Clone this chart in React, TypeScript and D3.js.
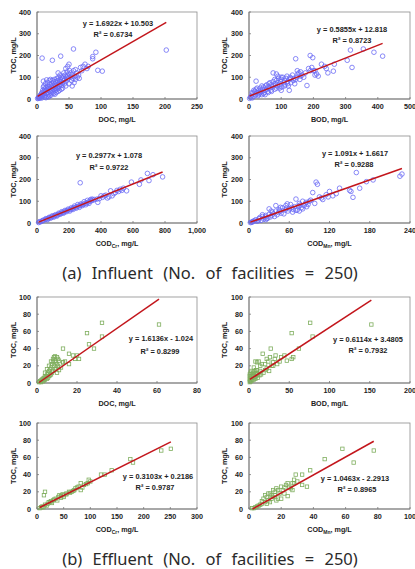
import React from "react";
import * as d3 from "d3";

type P = [number, number];

// ---------- Influent data ----------
const infDOC: P[] = [
  [1,2],[2,5],[3,8],[3,3],[4,12],[5,6],[5,15],[6,20],[6,10],[7,25],[7,4],[8,18],[8,30],[9,12],[9,40],
  [10,22],[10,55],[10,82],[11,35],[11,60],[12,28],[12,45],[13,15],[13,70],[14,38],[14,52],[15,25],[15,88],
  [16,42],[16,60],[17,30],[17,75],[18,48],[18,20],[19,55],[19,85],[20,35],[20,65],[21,45],[21,90],[22,28],
  [22,58],[23,70],[23,40],[24,50],[24,85],[25,32],[25,62],[26,45],[26,78],[27,55],[27,90],[28,38],[28,68],
  [29,50],[29,80],[30,60],[30,42],[31,72],[31,95],[32,55],[32,85],[33,48],[33,120],[34,65],[34,100],[35,75],
  [35,58],[36,90],[36,110],[37,68],[37,197],[38,80],[38,100],[39,62],[40,95],[40,75],[41,105],[42,85],
  [42,120],[43,70],[43,92],[44,110],[45,140],[45,80],[46,100],[47,125],[47,88],[48,150],[48,105],[49,95],
  [50,160],[50,115],[51,130],[52,100],[53,120],[54,85],[55,110],[55,60],[56,95],[57,230],[57,130],[58,75],
  [59,105],[60,135],[60,90],[62,120],[63,100],[65,110],[66,95],[68,145],[70,130],[72,150],[75,160],[78,140],
  [80,150],[87,185],[87,195],[92,215],[95,132],[102,128],[202,225],[8,188],[24,178],[12,8],[18,10],[22,18],
  [26,25],[30,30],[35,40],[40,50],[45,60],[50,70],[28,22],[16,12],[20,15],[14,6],[33,35],[38,45]
];
const infBOD: P[] = [
  [2,3],[5,8],[8,15],[10,5],[12,25],[15,12],[18,35],[20,20],[22,45],[25,30],[28,15],[30,40],[32,25],
  [35,50],[38,35],[40,20],[42,45],[45,55],[48,30],[50,40],[52,60],[55,45],[58,35],[60,55],[62,70],[65,50],
  [68,40],[70,65],[72,55],[75,80],[78,60],[80,45],[82,70],[85,85],[88,60],[90,75],[92,95],[95,65],[98,80],
  [100,90],[102,55],[105,100],[108,75],[110,85],[112,65],[115,95],[118,105],[120,80],[122,60],[125,90],
  [128,100],[130,75],[135,110],[138,85],[140,95],[142,70],[148,100],[152,115],[158,90],[165,110],[175,120],
  [190,130],[195,145],[205,110],[235,150],[240,140],[145,185],[190,200],[198,190],[180,62],[225,160],
  [245,120],[262,128],[265,160],[305,178],[315,225],[320,145],[355,230],[388,215],[415,197],[185,140],
  [200,130],[210,115],[215,105],[150,130],[155,120],[160,105],[170,100],[22,82],[75,120],[85,115],[100,40],
  [125,40],[100,100],[15,40],[30,20],[45,25],[60,30],[70,35],[85,50],[95,50],[110,60],[120,70],[40,60],
  [55,65],[65,75],[80,90],[90,105],[10,30],[25,50],[35,30],[50,20],[130,95],[145,90],[160,125],[205,130]
];
const infCODcr: P[] = [
  [10,2],[20,5],[30,8],[40,12],[50,15],[60,18],[70,20],[80,25],[90,27],[100,30],[110,33],[120,35],
  [130,38],[140,42],[150,45],[160,48],[170,50],[180,55],[190,58],[200,60],[210,62],[220,66],[230,70],
  [240,72],[250,75],[260,78],[270,80],[280,84],[290,86],[300,90],[310,92],[320,96],[330,100],[340,102],
  [350,105],[360,108],[15,6],[35,12],[55,20],[75,26],[95,33],[115,38],[135,45],[155,52],[175,58],[195,64],
  [215,70],[235,78],[255,85],[275,88],[295,98],[315,104],[335,108],[345,110],[65,15],[85,22],[105,27],
  [125,32],[145,40],[165,45],[185,52],[205,55],[225,62],[245,68],[265,72],[285,80],[305,84],[325,90],
  [270,185],[690,228],[700,195],[725,222],[785,212],[640,178],[650,198],[590,188],[560,148],[540,160],
  [510,145],[520,155],[460,148],[450,120],[470,125],[480,135],[420,125],[400,125],[380,95],[440,115],
  [490,140],[530,150],[410,118],[430,128],[500,150],[375,110],[390,112]
];
const infCODmn: P[] = [
  [2,2],[5,5],[8,10],[10,15],[12,8],[15,20],[18,12],[20,30],[22,18],[25,35],[28,22],[30,40],[32,28],
  [35,50],[38,30],[40,55],[42,38],[45,62],[48,45],[50,70],[52,42],[55,80],[58,55],[60,65],[62,85],[65,50],
  [68,75],[70,110],[72,60],[75,90],[78,70],[80,100],[82,80],[85,95],[88,85],[90,100],[30,65],[40,80],
  [20,38],[25,15],[70,58],[75,55],[80,65],[4,3],[6,8],[14,12],[16,25],[24,28],[26,20],[34,35],[36,42],
  [44,48],[46,55],[54,60],[56,68],[64,72],[66,62],[74,78],[76,82],[84,88],[86,75],[33,55],[47,72],[57,88],
  [100,188],[102,178],[95,140],[98,90],[105,120],[110,108],[115,130],[120,145],[125,125],[130,135],
  [135,160],[150,150],[152,145],[155,118],[160,232],[165,160],[175,190],[185,198],[225,215],[228,225],
  [118,120],[92,105],[108,115]
];

// ---------- Effluent data ----------
const effDOC: P[] = [
  [61,68],[32.5,70],[32.5,54],[25,58],[26,45],[28.5,40],[13,40],[16,34],[16,22],[18,32],[19,28],[21,28],
  [20,32],[14,25],[13,24],[1,1],[1.5,2],[2,3],[2,1],[2.5,4],[3,2],[3,5],[3.5,6],[3.5,3],[4,8],[4,4],
  [4.5,7],[5,10],[5,5],[5.5,12],[5.5,6],[6,14],[6,8],[6.5,16],[6.5,9],[7,18],[7,10],[7.5,22],[7.5,12],
  [8,25],[8,28],[8,14],[8.5,20],[8.5,30],[9,26],[9,16],[9,31],[9.5,24],[9.5,18],[10,30],[10,22],[10,12],
  [10.5,28],[10.5,20],[11,26],[11,15],[12,18],[13,24],[7,25],[6,20],[5,16],[4,12]
];
const effBOD: P[] = [
  [152,68],[76,70],[79,54],[53,58],[53,28],[55,30],[47,26],[44,32],[38,25],[33,32],[32,28],[30,20],
  [27,40],[26,30],[24,25],[22,28],[20,22],[17,34],[16,22],[14,20],[12,25],[10,24],[8,25],[9,15],[6,18],
  [62,40],[1,1],[1,3],[1,5],[1,8],[1,10],[2,2],[2,6],[2,12],[3,4],[3,8],[3,14],[4,3],[4,10],[5,6],[5,12],
  [6,4],[6,9],[7,7],[7,14],[8,5],[8,11],[9,8],[10,10],[10,15],[11,6],[12,12],[13,9],[14,14],[15,10],
  [18,12],[20,15],[22,17],[25,14],[28,20],[30,24],[35,22],[40,30]
];
const effCODcr: P[] = [
  [251,70],[233,68],[175,58],[180,54],[140,45],[120,40],[127,40],[97,34],[100,32],[95,30],[82,30],[82,22],
  [85,25],[75,25],[70,22],[65,20],[60,20],[55,18],[50,16],[45,15],[40,14],[35,12],[30,10],[25,8],[20,6],
  [15,5],[10,3],[5,1],[13,16],[15,20],[45,13],[50,14],[38,10],[28,7],[22,8],[18,4],[8,2],[12,2],[55,17],
  [62,19],[68,21],[72,24],[78,26],[88,28],[92,29],[42,16],[48,17],[32,11],[26,9]
];
const effCODmn: P[] = [
  [77.5,68],[58,70],[65,54],[47,58],[38,45],[36,26],[33,40],[33,28],[29,40],[28,34],[27,30],[27,22],
  [24,30],[23,28],[22,25],[20,12],[18,22],[17,24],[16,20],[15,14],[14,16],[13,18],[12,10],[11,14],[10,8],
  [9,12],[8,6],[7,5],[6,4],[5,3],[4,2],[3,1],[2,1],[10,16],[12,18],[15,22],[18,12],[20,26],[22,18],
  [25,25],[28,30],[30,32],[17,10],[13,8],[8,9],[11,6],[19,18],[21,22],[24,15],[26,24],[14,12],[16,16]
];

// ---------- Axis ticks ----------
const ticksInfY = [0, 100, 200, 300, 400];
const ticksInfDOC = [0, 50, 100, 150, 200, 250];
const ticksInfBOD = [0, 100, 200, 300, 400, 500];
const ticksInfCODcr = [0, 200, 400, 600, 800, 1000];
const ticksInfCODmn = [0, 60, 120, 180, 240];
const ticksEffY = [0, 20, 40, 60, 80, 100];
const ticksEffDOC = [0, 20, 40, 60, 80];
const ticksEffBOD = [0, 50, 100, 150, 200];
const ticksEffCODcr = [0, 50, 100, 150, 200, 250, 300];
const ticksEffCODmn = [0, 20, 40, 60, 80, 100];

// ---------- Regressions ----------
const slopes = [1.6922, 0.5855, 0.2977, 1.091, 1.6136, 0.6114, 0.3103, 1.0463];
const intercepts = [10.503, 12.818, 1.078, 1.6617, -1.024, 3.4805, 0.2186, -2.2913];
const eqTexts = [
  "y = 1.6922x + 10.503", "y = 0.5855x + 12.818", "y = 0.2977x + 1.078", "y = 1.091x + 1.6617",
  "y = 1.6136x - 1.024", "y = 0.6114x + 3.4805", "y = 0.3103x + 0.2186", "y = 1.0463x - 2.2913",
];
const r2Texts = ["0.6734", "0.8723", "0.9722", "0.9288", "0.8299", "0.7932", "0.9787", "0.8965"];
const xNames = ["DOC", "BOD", "COD", "COD", "DOC", "BOD", "COD", "COD"];
const xSubs = ["", "", "Cr", "Mn", "", "", "Cr", "Mn"];
const captions = ["(a) Influent (No. of facilities = 250)", "(b) Effluent (No. of facilities = 250)"];

const datasets = [infDOC, infBOD, infCODcr, infCODmn, effDOC, effBOD, effCODcr, effCODmn];
const xTickSets = [ticksInfDOC, ticksInfBOD, ticksInfCODcr, ticksInfCODmn, ticksEffDOC, ticksEffBOD, ticksEffCODcr, ticksEffCODmn];

// layout
const cols = [{ l: 37, r: 197, yt: 13 }, { l: 249, r: 410, yt: 224 }];
const rows = [{ t: 12, b: 99 }, { t: 136, b: 223 }, { t: 297, b: 383 }, { t: 423, b: 509 }];
const eqPos = [[118, 23, 113, 34], [352, 29, 352, 40], [109, 155, 109, 167], [355, 153, 354, 164],
  [161, 338, 160, 351], [368, 339, 368, 350], [158, 476, 155, 487], [355, 478, 357, 489]];

const tickFont = "'Liberation Sans', Arial, sans-serif";
const blue = "#6b6bf5";
const green = "#7fae5e";
const red = "#c3161c";

function Panel({ i }: { i: number }) {
  const col = cols[i % 2];
  const row = rows[Math.floor(i / 2)];
  const data = datasets[i];
  const xt = xTickSets[i];
  const yt = i < 4 ? ticksInfY : ticksEffY;
  const x = d3.scaleLinear().domain([xt[0], xt[xt.length - 1]]).range([col.l, col.r]);
  const y = d3.scaleLinear().domain([yt[0], yt[yt.length - 1]]).range([row.b, row.t]);
  const [xmin, xmax] = d3.extent(data, (d) => d[0]) as [number, number];
  const f = (v: number) => slopes[i] * v + intercepts[i];
  const root = -intercepts[i] / slopes[i];
  const lx0 = Math.max(xmin, root);
  const line = d3.line<number>().x((v) => x(v)).y((v) => y(f(v)))([lx0, xmax]) || "";
  const fmt = d3.format(",");
  const isInf = i < 4;
  const ep = eqPos[i];
  const cy = (row.t + row.b) / 2;
  return (
    <g>
      <rect x={col.l} y={row.t} width={col.r - col.l} height={row.b - row.t} fill="none" stroke="#8c8c8c" strokeWidth={0.8} />
      <line x1={col.l} x2={col.l} y1={row.t} y2={row.b} stroke="#777" strokeWidth={0.9} />
      <line x1={col.l} x2={col.r} y1={row.b} y2={row.b} stroke="#777" strokeWidth={0.9} />
      {xt.map((t) => (
        <g key={"x" + t}>
          <line x1={x(t)} x2={x(t)} y1={row.b} y2={row.b - 2} stroke="#777" strokeWidth={0.8} />
          <text x={x(t)} y={row.b + 10} textAnchor="middle" fontSize={7.2} fontWeight="bold" fill="#222" fontFamily={tickFont}>{fmt(t)}</text>
        </g>
      ))}
      {yt.map((t) => (
        <g key={"y" + t}>
          <line x1={col.l} x2={col.l + 2} y1={y(t)} y2={y(t)} stroke="#777" strokeWidth={0.8} />
          <text x={col.l - 6} y={y(t) + 2.5} textAnchor="end" fontSize={7.2} fontWeight="bold" fill="#222" fontFamily={tickFont}>{t}</text>
        </g>
      ))}
      <text transform={`translate(${col.yt + 2.5},${cy}) rotate(-90)`} textAnchor="middle" fontSize={7.2} fontWeight="bold" fill="#222" fontFamily={tickFont}>TOC, mg/L</text>
      <text x={(col.l + col.r) / 2} y={row.b + 23} textAnchor="middle" fontSize={7.2} fontWeight="bold" fill="#222" fontFamily={tickFont}>
        {xNames[i]}
        {xSubs[i] ? <tspan fontSize={5} dy={1.5}>{xSubs[i]}</tspan> : null}
        <tspan dy={xSubs[i] ? -1.5 : 0}>, mg/L</tspan>
      </text>
      {data.map((d, k) =>
        isInf ? (
          <circle key={k} cx={x(d[0])} cy={y(d[1])} r={2.3} fill="none" stroke={blue} strokeWidth={0.8} />
        ) : (
          <rect key={k} x={x(d[0]) - 1.7} y={y(d[1]) - 1.7} width={3.4} height={3.4} fill="none" stroke={green} strokeWidth={0.8} />
        )
      )}
      <path d={line} stroke={red} strokeWidth={1.5} fill="none" />
      <text x={ep[0]} y={ep[1] + 2.5} textAnchor="middle" fontSize={7.4} fontWeight="bold" fill="#222" fontFamily={tickFont}>{eqTexts[i]}</text>
      <text x={ep[2]} y={ep[3] + 2.5} textAnchor="middle" fontSize={7.4} fontWeight="bold" fill="#222" fontFamily={tickFont}>R² = {r2Texts[i]}</text>
    </g>
  );
}

export default function App() {
  return (
    <svg width={415} height={569} style={{ position: "absolute", left: 0, top: 0, background: "#fff" }}>
      {[0, 1, 2, 3, 4, 5, 6, 7].map((i) => <Panel key={i} i={i} />)}
      <text x={210} y={279} textAnchor="middle" fontSize={16.5} fill="#2a2a2a" fontFamily="'Noto Sans', sans-serif" wordSpacing={6}>
        {captions[0]}
      </text>
      <text x={210} y={565} textAnchor="middle" fontSize={16.5} fill="#2a2a2a" fontFamily="'Noto Sans', sans-serif" wordSpacing={6}>
        {captions[1]}
      </text>
    </svg>
  );
}
